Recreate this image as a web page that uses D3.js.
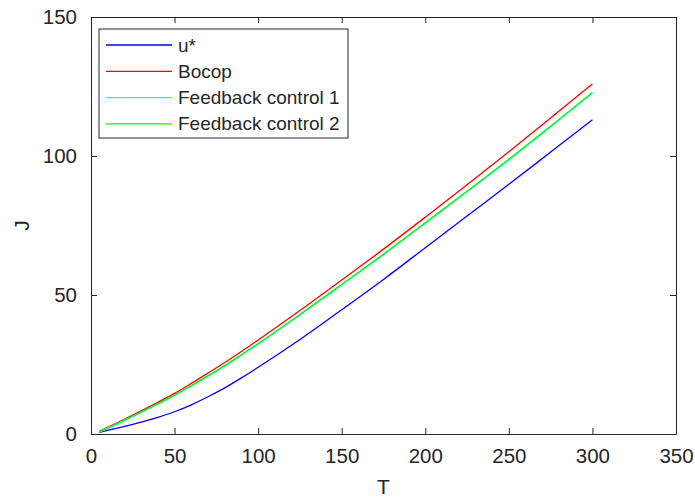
<!DOCTYPE html>
<head>
  <meta charset="utf-8">
  <script src="https://d3js.org/d3.v7.min.js"></script>
  <style>
    body { margin: 0; background: #fff; }
    text { font-family: "Liberation Sans", Arial, sans-serif; fill: #262626; }
    .axis path, .axis line { stroke: #262626; }
  </style>
</head>
<body>
  <script>
    var width = 695;
    var height = 499;

    // sample times
    var T = [5, 20, 30, 40, 50, 60, 70, 80, 90, 100, 125, 150, 175, 200, 225, 250, 275, 300];
    // cost J for each series
    var uStar    = [0.6, 2.7, 4.3, 6.0, 8.0, 10.5, 13.4, 16.6, 20.2, 24.0, 34.0, 44.7, 55.6, 67.0, 78.4, 89.8, 101.4, 113.0];
    var bocop    = [1.0, 5.3, 8.3, 11.4, 14.6, 18.2, 21.9, 25.7, 29.7, 33.8, 44.4, 55.4, 66.5, 78.0, 89.7, 101.5, 113.7, 125.9];
    var feedback1 = [0.7, 4.9, 7.8, 10.8, 13.9, 17.3, 20.8, 24.5, 28.4, 32.4, 42.9, 53.7, 64.6, 75.9, 87.2, 98.7, 110.6, 122.7];
    var feedback2 = [0.8, 5.0, 7.9, 10.9, 14.0, 17.4, 20.9, 24.6, 28.5, 32.5, 43.0, 53.8, 64.7, 76.0, 87.3, 98.8, 110.7, 122.8];

    var seriesNames = ["u*", "Bocop", "Feedback control 1", "Feedback control 2"];
    var seriesColors = ["#0000ff", "#ff0000", "#00ffff", "#00ff00"];
    var seriesValues = [uStar, bocop, feedback1, feedback2];

    var xTicks = [0, 50, 100, 150, 200, 250, 300, 350];
    var yTicks = [0, 50, 100, 150];

    var margin = {left: 91, right: 19, top: 17, bottom: 65};
    var x0 = margin.left, x1 = width - margin.right;
    var y0 = height - margin.bottom, y1 = margin.top;

    var x = d3.scaleLinear().domain([0, 350]).range([x0, x1]);
    var y = d3.scaleLinear().domain([0, 150]).range([y0, y1]);

    var svg = d3.select("body").append("svg")
        .attr("width", width)
        .attr("height", height);

    // lines
    var line = d3.line()
      .curve(d3.curveMonotoneX)
      .x(function (d) { return x(d[0]); })
      .y(function (d) { return y(d[1]); });

    seriesValues.forEach(function (vals, i) {
      svg.append("path")
        .datum(T.map(function (t, k) { return [t, vals[k]]; }))
        .attr("d", line)
        .attr("fill", "none")
        .attr("stroke", seriesColors[i])
        .attr("stroke-width", 1.3);
    });

    // axes, ticks inside, box
    var tickLen = 6;
    svg.append("g").attr("class", "axis")
      .attr("transform", "translate(0," + y0 + ")")
      .call(d3.axisBottom(x).tickValues(xTicks).tickSizeInner(-tickLen).tickSizeOuter(0).tickPadding(14));
    svg.append("g").attr("class", "axis")
      .attr("transform", "translate(0," + y1 + ")")
      .call(d3.axisTop(x).tickValues(xTicks).tickSizeInner(-tickLen).tickSizeOuter(0).tickFormat(""));
    svg.append("g").attr("class", "axis")
      .attr("transform", "translate(" + x0 + ",0)")
      .call(d3.axisLeft(y).tickValues(yTicks).tickSizeInner(-tickLen).tickSizeOuter(0).tickPadding(14));
    svg.append("g").attr("class", "axis")
      .attr("transform", "translate(" + x1 + ",0)")
      .call(d3.axisRight(y).tickValues(yTicks).tickSizeInner(-tickLen).tickSizeOuter(0).tickFormat(""));

    svg.selectAll(".axis text")
      .style("font-size", "20.5px")
      .attr("fill", "#262626");
    svg.selectAll(".axis line").attr("stroke-width", 1);
    svg.selectAll(".axis path").attr("stroke-width", 1);

    // axis labels
    svg.append("text")
      .attr("x", (x0 + x1) / 2)
      .attr("y", 494)
      .attr("text-anchor", "middle")
      .style("font-size", "21px")
      .text("T");
    svg.append("text")
      .attr("transform", "translate(29," + ((y0 + y1) / 2) + ") rotate(-90)")
      .attr("text-anchor", "middle")
      .style("font-size", "21px")
      .text("J");

    // legend
    var lg = svg.append("g").attr("transform", "translate(99,29)");
    lg.append("rect")
      .attr("width", 249).attr("height", 109)
      .attr("fill", "#fff")
      .attr("stroke", "#262626")
      .attr("stroke-width", 1);
    seriesNames.forEach(function (name, i) {
      var ly = 16 + i * 26.3;
      lg.append("line")
        .attr("x1", 7).attr("x2", 73)
        .attr("y1", ly).attr("y2", ly)
        .attr("stroke", seriesColors[i])
        .attr("stroke-width", 1.3);
      lg.append("text")
        .attr("x", 79).attr("y", ly + 6.5)
        .style("font-size", "19px")
        .text(name);
    });
  </script>
</body>
